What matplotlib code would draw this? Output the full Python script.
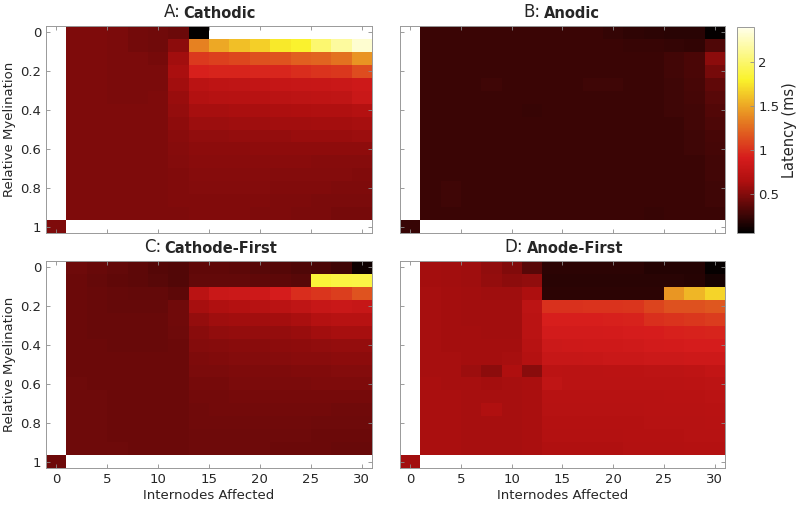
import numpy as np
import matplotlib
matplotlib.use('Agg')
from matplotlib import pyplot as plt
from matplotlib.colors import LinearSegmentedColormap

nan = np.nan

# columns: internodes affected 2..30, rows: relative myelination 0..14/15
internodes = np.arange(0, 31, 2)
myelination = np.arange(16) / 15

# healthy fibre (0 internodes, myelination 1)
healthy = {'A': 0.48, 'B': 0.25, 'C': 0.43, 'D': 0.60}

cathodic = [
    [0.48, 0.48, 0.47, 0.45, 0.44, 0.42, 0.07, nan, nan, nan, nan, nan, nan, nan, nan],
    [0.48, 0.48, 0.47, 0.45, 0.44, 0.53, 1.35, 1.50, 1.59, 1.66, 1.76, 1.80, 2.00, 2.15, 2.30],
    [0.48, 0.48, 0.47, 0.47, 0.46, 0.60, 1.04, 1.07, 1.09, 1.14, 1.15, 1.20, 1.22, 1.28, 1.42],
    [0.48, 0.48, 0.47, 0.47, 0.47, 0.63, 0.93, 0.95, 0.95, 0.96, 0.96, 0.98, 1.01, 1.03, 1.12],
    [0.48, 0.48, 0.47, 0.47, 0.47, 0.60, 0.72, 0.75, 0.76, 0.77, 0.79, 0.80, 0.81, 0.82, 0.85],
    [0.48, 0.48, 0.47, 0.47, 0.48, 0.57, 0.67, 0.69, 0.70, 0.71, 0.72, 0.74, 0.75, 0.76, 0.82],
    [0.48, 0.48, 0.48, 0.48, 0.48, 0.56, 0.62, 0.62, 0.63, 0.63, 0.64, 0.65, 0.66, 0.66, 0.68],
    [0.48, 0.48, 0.48, 0.48, 0.48, 0.54, 0.58, 0.58, 0.59, 0.59, 0.60, 0.60, 0.61, 0.61, 0.62],
    [0.48, 0.48, 0.48, 0.48, 0.48, 0.52, 0.55, 0.55, 0.56, 0.56, 0.56, 0.57, 0.57, 0.57, 0.58],
    [0.48, 0.48, 0.48, 0.48, 0.48, 0.51, 0.53, 0.53, 0.53, 0.54, 0.54, 0.54, 0.54, 0.54, 0.54],
    [0.48, 0.48, 0.48, 0.48, 0.48, 0.50, 0.52, 0.52, 0.52, 0.52, 0.52, 0.52, 0.51, 0.51, 0.51],
    [0.48, 0.48, 0.48, 0.48, 0.48, 0.49, 0.51, 0.51, 0.51, 0.51, 0.50, 0.50, 0.50, 0.50, 0.49],
    [0.48, 0.48, 0.48, 0.48, 0.48, 0.49, 0.50, 0.50, 0.50, 0.50, 0.49, 0.49, 0.49, 0.48, 0.48],
    [0.48, 0.48, 0.48, 0.48, 0.48, 0.49, 0.49, 0.49, 0.49, 0.49, 0.48, 0.48, 0.47, 0.47, 0.47],
    [0.48, 0.48, 0.48, 0.48, 0.48, 0.48, 0.49, 0.49, 0.49, 0.48, 0.48, 0.47, 0.47, 0.46, 0.46],
]

anodic = [
    [0.26, 0.26, 0.26, 0.26, 0.26, 0.26, 0.26, 0.26, 0.26, 0.24, 0.22, 0.21, 0.20, 0.20, 0.08],
    [0.26, 0.26, 0.26, 0.26, 0.26, 0.26, 0.26, 0.26, 0.26, 0.26, 0.25, 0.25, 0.24, 0.23, 0.33],
    [0.26, 0.26, 0.26, 0.26, 0.26, 0.26, 0.26, 0.26, 0.26, 0.26, 0.26, 0.26, 0.28, 0.31, 0.53],
    [0.26, 0.26, 0.26, 0.26, 0.26, 0.26, 0.26, 0.26, 0.26, 0.26, 0.26, 0.26, 0.28, 0.31, 0.46],
    [0.26, 0.26, 0.26, 0.27, 0.26, 0.26, 0.26, 0.26, 0.27, 0.27, 0.26, 0.26, 0.27, 0.30, 0.38],
    [0.26, 0.26, 0.26, 0.26, 0.26, 0.26, 0.26, 0.26, 0.26, 0.26, 0.26, 0.26, 0.27, 0.29, 0.36],
    [0.26, 0.26, 0.26, 0.26, 0.26, 0.25, 0.26, 0.26, 0.26, 0.26, 0.26, 0.26, 0.27, 0.28, 0.34],
    [0.26, 0.26, 0.26, 0.26, 0.26, 0.26, 0.26, 0.26, 0.26, 0.26, 0.26, 0.26, 0.26, 0.28, 0.32],
    [0.26, 0.26, 0.26, 0.26, 0.26, 0.26, 0.26, 0.26, 0.26, 0.26, 0.26, 0.26, 0.26, 0.27, 0.30],
    [0.26, 0.26, 0.26, 0.26, 0.26, 0.26, 0.26, 0.26, 0.26, 0.26, 0.26, 0.26, 0.26, 0.27, 0.29],
    [0.26, 0.26, 0.26, 0.26, 0.26, 0.26, 0.26, 0.26, 0.26, 0.26, 0.26, 0.26, 0.26, 0.26, 0.28],
    [0.26, 0.26, 0.26, 0.26, 0.26, 0.26, 0.26, 0.26, 0.26, 0.26, 0.26, 0.26, 0.26, 0.26, 0.28],
    [0.26, 0.27, 0.26, 0.26, 0.26, 0.26, 0.26, 0.26, 0.26, 0.26, 0.26, 0.26, 0.26, 0.26, 0.27],
    [0.26, 0.27, 0.26, 0.26, 0.26, 0.26, 0.26, 0.26, 0.26, 0.26, 0.26, 0.26, 0.26, 0.26, 0.27],
    [0.26, 0.26, 0.26, 0.26, 0.26, 0.26, 0.26, 0.26, 0.26, 0.26, 0.26, 0.25, 0.26, 0.26, 0.26],
]

cathode_first = [
    [0.43, 0.41, 0.39, 0.37, 0.35, 0.34, 0.38, 0.38, 0.37, 0.36, 0.35, 0.33, 0.31, 0.27, 0.11],
    [0.42, 0.40, 0.38, 0.37, 0.36, 0.34, 0.39, 0.39, 0.39, 0.38, 0.37, 0.36, 1.84, 1.87, 1.88],
    [0.42, 0.41, 0.40, 0.39, 0.39, 0.37, 0.72, 0.82, 0.84, 0.85, 0.90, 0.98, 1.02, 1.06, 1.15],
    [0.42, 0.41, 0.40, 0.40, 0.40, 0.44, 0.62, 0.66, 0.68, 0.70, 0.72, 0.76, 0.80, 0.82, 0.80],
    [0.42, 0.41, 0.41, 0.41, 0.41, 0.44, 0.56, 0.59, 0.60, 0.60, 0.61, 0.63, 0.68, 0.70, 0.70],
    [0.42, 0.41, 0.41, 0.41, 0.41, 0.43, 0.52, 0.55, 0.56, 0.56, 0.56, 0.57, 0.60, 0.62, 0.62],
    [0.42, 0.42, 0.41, 0.41, 0.41, 0.42, 0.50, 0.51, 0.52, 0.52, 0.53, 0.54, 0.55, 0.56, 0.56],
    [0.42, 0.42, 0.42, 0.42, 0.42, 0.42, 0.48, 0.49, 0.50, 0.50, 0.51, 0.52, 0.52, 0.53, 0.53],
    [0.42, 0.42, 0.42, 0.42, 0.42, 0.42, 0.47, 0.47, 0.48, 0.48, 0.48, 0.49, 0.49, 0.50, 0.50],
    [0.43, 0.42, 0.42, 0.42, 0.42, 0.42, 0.46, 0.46, 0.47, 0.47, 0.47, 0.47, 0.48, 0.48, 0.48],
    [0.43, 0.43, 0.42, 0.42, 0.42, 0.42, 0.45, 0.45, 0.46, 0.46, 0.46, 0.46, 0.46, 0.46, 0.46],
    [0.43, 0.43, 0.42, 0.42, 0.42, 0.42, 0.44, 0.45, 0.45, 0.45, 0.45, 0.45, 0.45, 0.44, 0.44],
    [0.43, 0.43, 0.42, 0.42, 0.42, 0.42, 0.44, 0.44, 0.44, 0.44, 0.44, 0.44, 0.43, 0.43, 0.43],
    [0.43, 0.43, 0.42, 0.42, 0.42, 0.42, 0.43, 0.43, 0.43, 0.43, 0.43, 0.43, 0.42, 0.42, 0.42],
    [0.43, 0.43, 0.43, 0.42, 0.42, 0.42, 0.43, 0.43, 0.43, 0.43, 0.42, 0.42, 0.42, 0.41, 0.41],
]

anode_first = [
    [0.61, 0.60, 0.59, 0.55, 0.49, 0.36, 0.21, 0.21, 0.21, 0.21, 0.21, 0.18, 0.18, 0.18, 0.08],
    [0.61, 0.60, 0.59, 0.56, 0.53, 0.55, 0.20, 0.20, 0.20, 0.20, 0.20, 0.20, 0.20, 0.19, 0.14],
    [0.62, 0.61, 0.60, 0.59, 0.59, 0.64, 0.21, 0.21, 0.21, 0.21, 0.21, 0.21, 1.43, 1.56, 1.68],
    [0.62, 0.61, 0.60, 0.60, 0.60, 0.74, 1.00, 1.00, 1.01, 1.01, 1.02, 1.08, 1.14, 1.14, 1.17],
    [0.62, 0.61, 0.60, 0.60, 0.60, 0.72, 0.92, 0.92, 0.92, 0.93, 0.94, 0.99, 1.01, 1.03, 1.05],
    [0.62, 0.61, 0.61, 0.60, 0.60, 0.72, 0.88, 0.88, 0.88, 0.89, 0.90, 0.91, 0.93, 0.94, 0.95],
    [0.62, 0.61, 0.61, 0.61, 0.61, 0.70, 0.84, 0.85, 0.86, 0.86, 0.87, 0.88, 0.89, 0.90, 0.90],
    [0.62, 0.62, 0.61, 0.61, 0.62, 0.68, 0.80, 0.80, 0.81, 0.82, 0.82, 0.84, 0.84, 0.85, 0.85],
    [0.62, 0.62, 0.58, 0.53, 0.65, 0.52, 0.73, 0.72, 0.72, 0.73, 0.73, 0.74, 0.74, 0.75, 0.77],
    [0.63, 0.62, 0.62, 0.61, 0.62, 0.63, 0.76, 0.72, 0.72, 0.72, 0.72, 0.72, 0.72, 0.73, 0.74],
    [0.63, 0.63, 0.62, 0.62, 0.62, 0.63, 0.70, 0.70, 0.70, 0.70, 0.70, 0.70, 0.71, 0.71, 0.72],
    [0.63, 0.63, 0.62, 0.66, 0.62, 0.63, 0.69, 0.69, 0.69, 0.69, 0.69, 0.70, 0.70, 0.70, 0.71],
    [0.63, 0.63, 0.62, 0.62, 0.62, 0.63, 0.68, 0.68, 0.68, 0.68, 0.68, 0.69, 0.69, 0.69, 0.70],
    [0.63, 0.63, 0.62, 0.62, 0.62, 0.63, 0.67, 0.67, 0.67, 0.67, 0.68, 0.68, 0.68, 0.69, 0.69],
    [0.63, 0.63, 0.62, 0.62, 0.62, 0.63, 0.66, 0.66, 0.66, 0.66, 0.67, 0.67, 0.67, 0.68, 0.68],
]

panels = [('A', 'Cathodic', cathodic, 0.417),
          ('B', 'Anodic', anodic, 0.437),
          ('C', 'Cathode-First', cathode_first, 0.359),
          ('D', 'Anode-First', anode_first, 0.385)]

vmin, vmax = 0.06, 2.39
txt = '0.15'

# hot-like map, a little softer in the saturated part like the printed figure
cmap = LinearSegmentedColormap.from_list('soft_hot', [
    (0.0, (0.0, 0.0, 0.0)),
    (0.25, (0.685, 0.06, 0.06)),
    (0.365, (0.84, 0.11, 0.11)),
    (0.55, (0.90, 0.50, 0.13)),
    (0.746, (0.98, 0.95, 0.17)),
    (1.0, (1.0, 1.0, 0.92)),
])

fig = plt.figure(figsize=(8, 5.08), dpi=100)
plt.rcParams['font.family'] = 'DejaVu Sans'

positions = {'A': [0.0575, 0.5413, 0.4075, 0.4075],
             'B': [0.5, 0.5413, 0.406, 0.4075],
             'C': [0.0575, 0.0787, 0.4075, 0.4075],
             'D': [0.5, 0.0787, 0.406, 0.4075]}


def build(letter, vals):
    grid = np.full((16, 16), nan)
    grid[:15, 1:] = np.array(vals)
    grid[15, 0] = healthy[letter]
    return grid


for letter, name, vals, mid in panels:
    ax = fig.add_axes(positions[letter])
    grid = build(letter, vals)
    mesh = ax.pcolormesh(internodes, myelination, grid, cmap=cmap,
                         vmin=vmin, vmax=vmax, shading='nearest')
    ax.set_xlim(-1, 31)
    ax.set_ylim(1 + 1 / 30, -1 / 30)
    ax.set_xticks([0, 5, 10, 15, 20, 25, 30])
    ax.set_yticks([0, 0.2, 0.4, 0.6, 0.8, 1])
    ax.set_yticklabels(['0', '0.2', '0.4', '0.6', '0.8', '1'])
    ax.tick_params(direction='in', length=3, width=0.6, top=True, right=True,
                   colors='0.55', labelcolor=txt, labelsize=9.5)
    for s in ax.spines.values():
        s.set_color('0.6')
        s.set_linewidth(0.7)
    if letter in 'AB':
        ax.set_xticklabels([])
    else:
        ax.set_xlabel('Internodes Affected', fontsize=9.5, color=txt, labelpad=2)
    if letter in 'BD':
        ax.set_yticklabels([])
    else:
        ax.set_ylabel('Relative Myelination', fontsize=9.5, color=txt, labelpad=3)
    ax.text(mid - 0.005, 1.022, letter + ':', transform=ax.transAxes, ha='right',
            va='bottom', fontsize=12, color=txt)
    ax.text(mid + 0.005, 1.022, name, transform=ax.transAxes, ha='left',
            va='bottom', fontsize=10.5, fontweight='bold', color=txt)

cax = fig.add_axes([0.921, 0.5413, 0.021, 0.4055])
cb = fig.colorbar(mesh, cax=cax)
cb.set_ticks([0.5, 1, 1.5, 2])
cb.set_ticklabels(['0.5', '1', '1.5', '2'])
cb.ax.tick_params(direction='in', length=3, width=0.6, colors='0.55',
                  labelcolor=txt, labelsize=9.5)
cb.outline.set_edgecolor('0.6')
cb.outline.set_linewidth(0.7)
cb.set_label('Latency (ms)', fontsize=10.5, color=txt, labelpad=2)

fig.savefig('out.png', dpi=100)
